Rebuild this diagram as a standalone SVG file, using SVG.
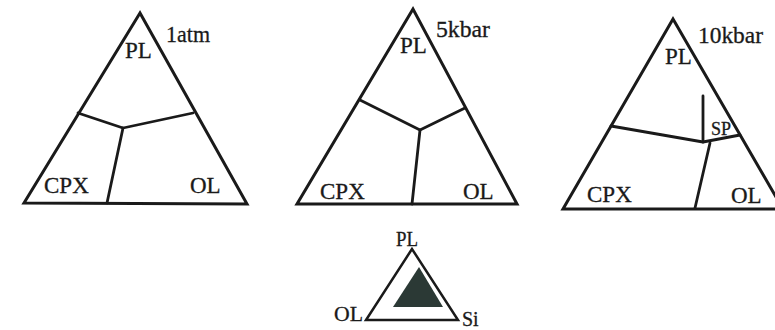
<svg xmlns="http://www.w3.org/2000/svg" width="775" height="330" viewBox="0 0 775 330">
<style>
.tri{fill:none;stroke:#1a1a1a;stroke-width:3;stroke-linejoin:miter}
.ln{fill:none;stroke:#1a1a1a;stroke-width:2.8;stroke-linecap:round;stroke-linejoin:round}
.t{font-family:"Liberation Serif","Times New Roman",serif;font-size:23px;fill:#1a1a1a;stroke:#1a1a1a;stroke-width:0.3}
.s{font-size:18px}
.k{font-size:20px}
</style>
<rect width="775" height="330" fill="#ffffff"/>
<g id="diagram-1atm">
<polygon class="tri" points="140,13 24,203 247,204"/>
<text class="t" x="125" y="58">PL</text>
<text class="t" x="166" y="42" textLength="44" lengthAdjust="spacingAndGlyphs">1atm</text>
<text class="t" x="44" y="193">CPX</text>
<text class="t" x="190" y="193">OL</text>
</g>
<g id="diagram-5kbar">
<polygon class="tri" points="413,9 297,204 517,204"/>
<text class="t" x="400" y="53">PL</text>
<text class="t" x="436" y="37" textLength="54" lengthAdjust="spacingAndGlyphs">5kbar</text>
<text class="t" x="320" y="199">CPX</text>
<text class="t" x="463" y="199">OL</text>
</g>
<g id="diagram-10kbar">
<polygon class="tri" points="673,19 563,209 783,209"/>
<text class="t" x="665" y="64">PL</text>
<text class="t" x="698" y="43" textLength="65" lengthAdjust="spacingAndGlyphs">10kbar</text>
<text class="t s" x="711" y="135">SP</text>
<text class="t" x="587" y="202">CPX</text>
<text class="t" x="731" y="203">OL</text>
</g>
<g id="diagram-key">
<polygon class="tri" points="412,249 366,320 458,320" style="stroke-width:2.5"/>
<polygon points="419,267 393,307 443,307" fill="#2b3935"/>
<text class="t k" x="396" y="246" textLength="22" lengthAdjust="spacingAndGlyphs">PL</text>
<text class="t k" x="334" y="321" textLength="29" lengthAdjust="spacingAndGlyphs">OL</text>
<text class="t k" x="462" y="326">Si</text>
</g>
<g id="connectors">
<polyline class="ln" points="78,113 123,128 193,113"/>
<line class="ln" x1="123" y1="128" x2="107" y2="203"/>
<polyline class="ln" points="360,100 420,130 465,108"/>
<line class="ln" x1="420" y1="130" x2="412" y2="204"/>
<polyline class="ln" points="611,126 703,142 740,135"/>
<line class="ln" x1="703" y1="96" x2="703" y2="142"/>
<line class="ln" x1="710" y1="143" x2="695" y2="208"/>
</g>
</svg>
